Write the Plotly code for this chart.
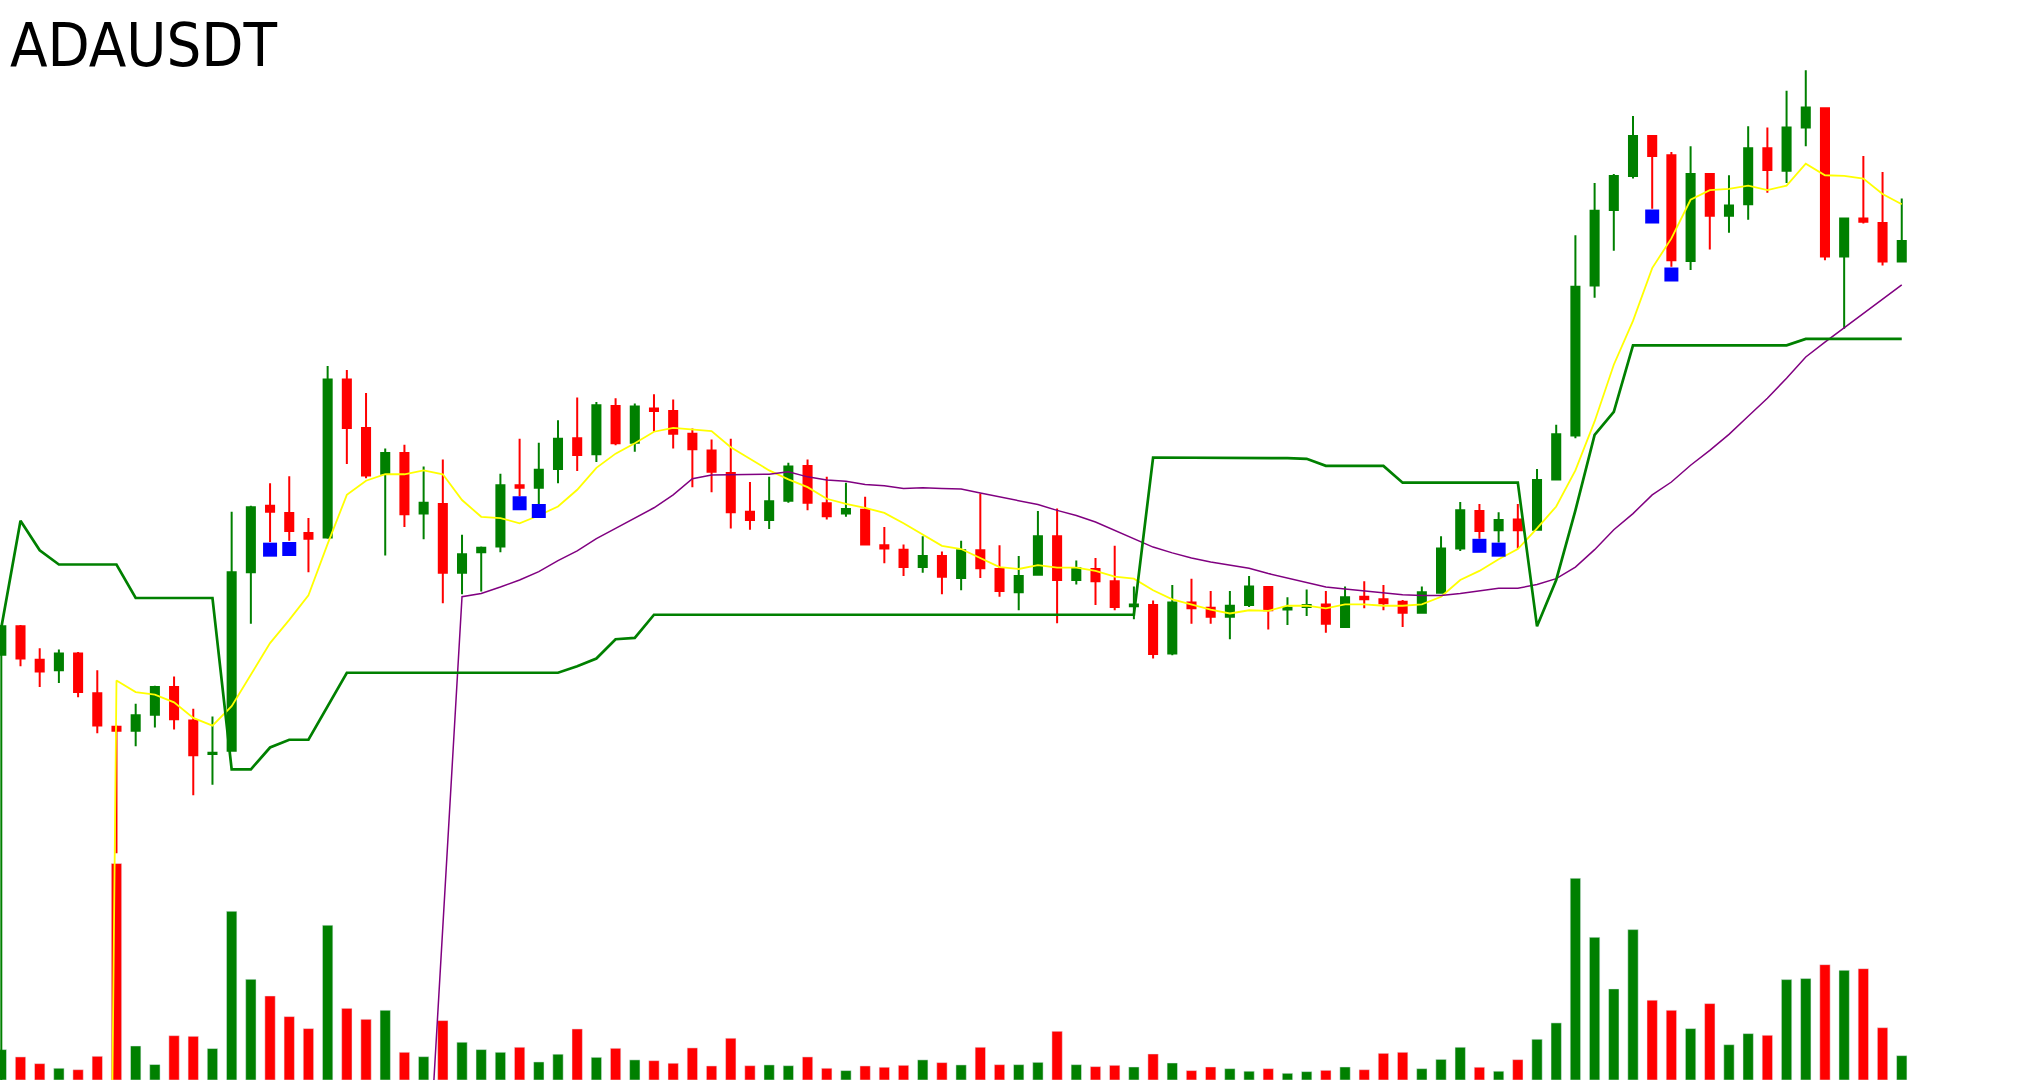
import plotly.graph_objects as go

# candle index (one candle per bar of the chart)
idx = list(range(100))

open_ = [
    0.2984, 0.3028, 0.2976, 0.2960, 0.2986, 0.2924, 0.2872, 0.2866, 0.2891, 0.2934,
    0.2882, 0.2830, 0.2835, 0.3112, 0.3215, 0.3204, 0.3173, 0.3166, 0.3411, 0.3336,
    0.3265, 0.3297, 0.3203, 0.3218, 0.3111, 0.3143, 0.3152, 0.3247, 0.3243, 0.3272,
    0.3320, 0.3295, 0.3370, 0.3313, 0.3366, 0.3362, 0.3327, 0.3301, 0.3266, 0.3206,
    0.3193, 0.3223, 0.3277, 0.3219, 0.3203, 0.3209, 0.3154, 0.3147, 0.3120, 0.3137,
    0.3103, 0.3146, 0.3117, 0.3081, 0.3108, 0.3168, 0.3100, 0.3117, 0.3098, 0.3059,
    0.3061, 0.2986, 0.3065, 0.3057, 0.3043, 0.3061, 0.3089, 0.3054, 0.3058, 0.3062,
    0.3027, 0.3074, 0.3070, 0.3066, 0.3049, 0.3080, 0.3149, 0.3207, 0.3177, 0.3194,
    0.3178, 0.3256, 0.3324, 0.3557, 0.3674, 0.3727, 0.3789, 0.3759, 0.3595, 0.3730,
    0.3665, 0.3683, 0.3770, 0.3735, 0.3802, 0.3832, 0.3602, 0.3661, 0.3654, 0.3594,
]
high = [
    0.3030, 0.3030, 0.2994, 0.2992, 0.2988, 0.2960, 0.2874, 0.2908, 0.2936, 0.2950,
    0.2900, 0.2888, 0.3206, 0.3215, 0.3250, 0.3261, 0.3196, 0.3432, 0.3426, 0.3390,
    0.3304, 0.3310, 0.3276, 0.3287, 0.3170, 0.3152, 0.3265, 0.3319, 0.3313, 0.3348,
    0.3383, 0.3376, 0.3382, 0.3374, 0.3388, 0.3380, 0.3335, 0.3318, 0.3319, 0.3252,
    0.3260, 0.3282, 0.3287, 0.3260, 0.3251, 0.3229, 0.3182, 0.3155, 0.3168, 0.3144,
    0.3161, 0.3234, 0.3154, 0.3137, 0.3207, 0.3211, 0.3130, 0.3134, 0.3153, 0.3090,
    0.3068, 0.3092, 0.3102, 0.3083, 0.3083, 0.3106, 0.3090, 0.3073, 0.3085, 0.3083,
    0.3090, 0.3098, 0.3092, 0.3069, 0.3090, 0.3168, 0.3221, 0.3218, 0.3205, 0.3218,
    0.3272, 0.3341, 0.3635, 0.3716, 0.3730, 0.3820, 0.3790, 0.3764, 0.3773, 0.3731,
    0.3728, 0.3804, 0.3802, 0.3859, 0.3891, 0.3832, 0.3661, 0.3758, 0.3733, 0.3692,
]
low = [
    0.2300, 0.2966, 0.2934, 0.2940, 0.2918, 0.2862, 0.2676, 0.2842, 0.2871, 0.2868,
    0.2766, 0.2782, 0.2834, 0.3032, 0.3159, 0.3161, 0.3112, 0.3164, 0.3280, 0.3258,
    0.3138, 0.3182, 0.3163, 0.3064, 0.3078, 0.3082, 0.3143, 0.3230, 0.3218, 0.3250,
    0.3269, 0.3283, 0.3309, 0.3299, 0.3330, 0.3304, 0.3244, 0.3236, 0.3180, 0.3178,
    0.3179, 0.3220, 0.3208, 0.3194, 0.3198, 0.3154, 0.3126, 0.3106, 0.3111, 0.3078,
    0.3084, 0.3103, 0.3074, 0.3053, 0.3107, 0.3033, 0.3093, 0.3061, 0.3053, 0.3039,
    0.2978, 0.2983, 0.3032, 0.3032, 0.3008, 0.3058, 0.3023, 0.3030, 0.3044, 0.3018,
    0.3026, 0.3056, 0.3053, 0.3027, 0.3048, 0.3079, 0.3145, 0.3164, 0.3158, 0.3149,
    0.3177, 0.3255, 0.3320, 0.3538, 0.3611, 0.3723, 0.3676, 0.3586, 0.3581, 0.3613,
    0.3639, 0.3659, 0.3701, 0.3716, 0.3773, 0.3596, 0.3490, 0.3653, 0.3588, 0.3594,
]
close = [
    0.3028, 0.2978, 0.2958, 0.2986, 0.2926, 0.2874, 0.2866, 0.2890, 0.2934, 0.2884,
    0.2828, 0.2832, 0.3112, 0.3213, 0.3206, 0.3176, 0.3164, 0.3411, 0.3336, 0.3262,
    0.3297, 0.3202, 0.3220, 0.3111, 0.3140, 0.3150, 0.3247, 0.3243, 0.3271, 0.3319,
    0.3294, 0.3371, 0.3312, 0.3369, 0.3362, 0.3327, 0.3303, 0.3268, 0.3205, 0.3193,
    0.3222, 0.3276, 0.3220, 0.3199, 0.3210, 0.3155, 0.3149, 0.3120, 0.3137, 0.3105,
    0.3146, 0.3118, 0.3083, 0.3106, 0.3168, 0.3100, 0.3118, 0.3098, 0.3058, 0.3062,
    0.2985, 0.3065, 0.3056, 0.3043, 0.3060, 0.3090, 0.3053, 0.3057, 0.3061, 0.3032,
    0.3073, 0.3070, 0.3064, 0.3049, 0.3081, 0.3149, 0.3208, 0.3176, 0.3193, 0.3177,
    0.3255, 0.3326, 0.3555, 0.3673, 0.3727, 0.3789, 0.3758, 0.3596, 0.3730, 0.3665,
    0.3681, 0.3770, 0.3736, 0.3802, 0.3833, 0.3602, 0.3661, 0.3656, 0.3594, 0.3626,
]

# volume, millions
volume = [
    11.8, 8.95, 6.35, 4.55, 4.0, 9.2, 84.0, 13.2, 6.0, 17.2,
    16.95, 12.2, 65.45, 39.05, 32.6, 24.6, 19.95, 60.05, 27.8, 23.55,
    27.05, 10.75, 9.05, 23.05, 14.65, 11.8, 10.75, 12.7, 7.0, 10.0,
    19.8, 8.8, 12.3, 7.8, 7.5, 6.5, 12.45, 5.45, 16.2, 5.55,
    5.85, 5.55, 8.95, 4.55, 3.65, 5.45, 4.95, 5.7, 7.8, 6.75,
    5.85, 12.7, 5.95, 5.95, 6.85, 18.9, 5.95, 5.2, 5.7, 5.05,
    10.1, 6.6, 3.65, 5.05, 4.4, 3.4, 4.4, 2.6, 3.25, 3.75,
    5.05, 4.0, 10.35, 10.75, 4.4, 8.0, 12.7, 4.95, 3.4, 7.9,
    15.8, 22.15, 78.25, 55.35, 35.35, 58.35, 30.95, 27.05, 19.95, 29.65,
    13.7, 18.0, 17.35, 38.95, 39.35, 44.75, 42.55, 43.2, 20.3, 9.45,
]

# MA(7), leading values filled with 0
ma7 = [
    0, 0, 0, 0, 0, 0, 0.2944, 0.2926, 0.2922, 0.2910,
    0.2886, 0.2874, 0.2904, 0.2952, 0.3002, 0.3038, 0.3076, 0.3156, 0.3232, 0.3254,
    0.3264, 0.3264, 0.3270, 0.3264, 0.3224, 0.3198, 0.3196, 0.3188, 0.3200, 0.3214,
    0.3240, 0.3274, 0.3296, 0.3312, 0.3330, 0.3336, 0.3334, 0.3331, 0.3306, 0.3288,
    0.3270, 0.3256, 0.3244, 0.3226, 0.3218, 0.3212, 0.3204, 0.3188, 0.3170, 0.3153,
    0.3148, 0.3134, 0.3120, 0.3117, 0.3123, 0.3119, 0.3119, 0.3114, 0.3105, 0.3102,
    0.3084, 0.3070, 0.3062, 0.3054, 0.3048, 0.3053, 0.3052, 0.3060, 0.3060, 0.3056,
    0.3062, 0.3062, 0.3060, 0.3060, 0.3062, 0.3074, 0.3100, 0.3114, 0.3132, 0.3148,
    0.3180, 0.3214, 0.3270, 0.3346, 0.3434, 0.3502, 0.3584, 0.3630, 0.3690, 0.3705,
    0.3707, 0.3712, 0.3705, 0.3712, 0.3746, 0.3728, 0.3727, 0.3723, 0.3699, 0.3683,
]

# MA(25)
ma25 = [
    0, 0, 0, 0, 0, 0, 0, 0, 0, 0,
    0, 0, 0, 0, 0, 0, 0, 0, 0, None,
    None, None, None, None, 0.3074, 0.3079, 0.3089, 0.3100, 0.3113, 0.3130,
    0.3145, 0.3164, 0.3180, 0.3196, 0.3212, 0.3232, 0.3257, 0.3263, 0.3263, 0.3263,
    0.3264, 0.3268, 0.3260, 0.3255, 0.3253, 0.3248, 0.3246, 0.3242, 0.3243, 0.3242,
    0.3241, 0.3235, 0.3229, 0.3223, 0.3217, 0.3208, 0.3200, 0.3190, 0.3177, 0.3165,
    0.3151, 0.3142, 0.3134, 0.3128, 0.3123, 0.3118, 0.3110, 0.3103, 0.3097, 0.3089,
    0.3086, 0.3083, 0.3080, 0.3077, 0.3076, 0.3076, 0.3079, 0.3083, 0.3087, 0.3087,
    0.3093, 0.3102, 0.3120, 0.3147, 0.3178, 0.3203, 0.3232, 0.3252, 0.3278, 0.3301,
    0.3326, 0.3354, 0.3382, 0.3413, 0.3446, 0.3469, 0.3491, 0.3513, 0.3535, 0.3558,
]

# trailing stop line
stop = [
    0.3026, 0.3192, 0.3146, 0.3124, 0.3124, 0.3124, 0.3124, 0.3072, 0.3072, 0.3072,
    0.3072, 0.3072, 0.2806, 0.2806, 0.2840, 0.2852, 0.2852, 0.2904, 0.2956, 0.2956,
    0.2956, 0.2956, 0.2956, 0.2956, 0.2956, 0.2956, 0.2956, 0.2956, 0.2956, 0.2956,
    0.2966, 0.2978, 0.3008, 0.3010, 0.3046, 0.3046, 0.3046, 0.3046, 0.3046, 0.3046,
    0.3046, 0.3046, 0.3046, 0.3046, 0.3046, 0.3046, 0.3046, 0.3046, 0.3046, 0.3046,
    0.3046, 0.3046, 0.3046, 0.3046, 0.3046, 0.3046, 0.3046, 0.3046, 0.3046, 0.3046,
    0.3290, 0.3290, 0.3290, 0.3290, 0.3290, 0.3290, 0.3290, 0.3289, 0.3288, 0.3277,
    0.3277, 0.3277, 0.3277, 0.3251, 0.3251, 0.3251, 0.3251, 0.3251, 0.3251, 0.3251,
    0.3028, 0.3100, 0.3208, 0.3325, 0.3361, 0.3464, 0.3464, 0.3464, 0.3464, 0.3464,
    0.3464, 0.3464, 0.3464, 0.3464, 0.3474, 0.3474, 0.3474, 0.3474, 0.3474, 0.3474,
]

# signal markers
sig_idx = [14, 15, 27, 28, 77, 78, 86, 87]
sig_price = [0.3147, 0.3148, 0.3219, 0.3207, 0.3153, 0.3147, 0.3664, 0.3574]

vol_colors = ['green' if c >= o else 'red' for o, c in zip(open_, close)]

fig = go.Figure()

fig.add_trace(go.Bar(x=idx, y=volume, marker_color=vol_colors, width=0.54,
                     yaxis='y', name='Volume'))

fig.add_trace(go.Candlestick(
    x=idx, open=open_, high=high, low=low, close=close,
    increasing=dict(line=dict(color='green', width=2), fillcolor='green'),
    decreasing=dict(line=dict(color='red', width=2), fillcolor='red'),
    yaxis='y2', name='ADAUSDT'))

fig.add_trace(go.Scatter(x=idx, y=ma7, mode='lines',
                         line=dict(color='yellow', width=1.8), yaxis='y2', name='MA7'))
fig.add_trace(go.Scatter(x=idx, y=ma25, mode='lines', connectgaps=True,
                         line=dict(color='purple', width=1.5), yaxis='y2', name='MA25'))
fig.add_trace(go.Scatter(x=idx, y=stop, mode='lines',
                         line=dict(color='green', width=2.7), yaxis='y2', name='Stop'))
fig.add_trace(go.Scatter(x=sig_idx, y=sig_price, mode='markers',
                         marker=dict(symbol='square', size=14, color='blue'),
                         yaxis='y2', name='Signal'))

fig.add_annotation(text='ADAUSDT', x=0, y=1, xref='paper', yref='paper',
                   xanchor='left', yanchor='top', showarrow=False, xshift=8, yshift=-7,
                   font=dict(size=61, color='black',
                             family='DejaVu Sans Condensed, Liberation Sans Narrow, DejaVu Sans'))

fig.update_layout(
    width=2020, height=1080,
    margin=dict(l=0, r=0, t=0, b=0),
    paper_bgcolor='white', plot_bgcolor='white',
    showlegend=False,
    boxgap=0.4,
    xaxis=dict(range=[-0.068, 105.16], visible=False, rangeslider=dict(visible=False)),
    yaxis=dict(range=[0, 419], visible=False),
    yaxis2=dict(range=[0.2324, 0.4], overlaying='y', visible=False),
)

# page fills the window edge to edge, no toolbar
fig.write_html("out.html", config={'displayModeBar': False},
               post_script="document.body.style.margin = '0';")
